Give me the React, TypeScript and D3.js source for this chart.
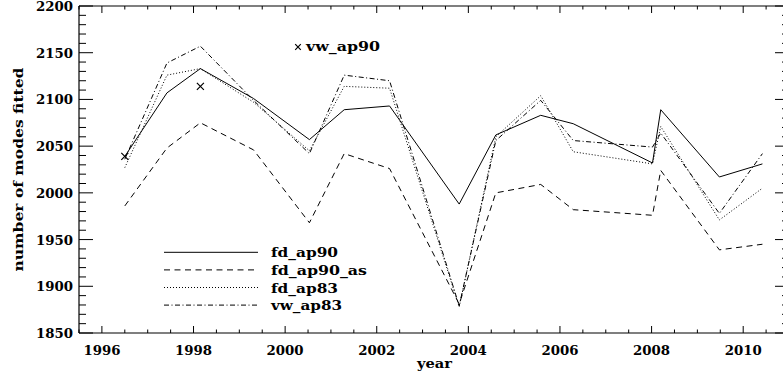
import React from "react";
import * as d3 from "d3";

const years = [1996.5, 1997.42, 1998.15, 1999.31, 2000.53, 2001.29, 2002.28, 2003.8, 2004.6, 2005.58, 2006.29, 2008.02, 2008.2, 2009.48, 2010.42];
const fdAp90 = [2039, 2107, 2133, 2101, 2057, 2089, 2093, 1988, 2062, 2083, 2074, 2032, 2089, 2017, 2031];
const fdAp90As = [1986, 2048, 2075, 2046, 1968, 2042, 2026, 1881, 2000, 2009, 1982, 1976, 2024, 1939, 1945];
const fdAp83 = [2027, 2126, 2133, 2097, 2045, 2114, 2112, 1878, 2060, 2104, 2044, 2031, 2071, 1971, 2005];
const vwAp83 = [2036, 2139, 2157, 2099, 2042, 2126, 2120, 1879, 2056, 2099, 2056, 2049, 2064, 1978, 2042];
const vwAp90Years = [1996.5, 1998.15];
const vwAp90 = [2039, 2114];

const seriesNames = ["fd_ap90", "fd_ap90_as", "fd_ap83", "vw_ap83"];
const xTicks = [1996, 1998, 2000, 2002, 2004, 2006, 2008, 2010];
const yTicks = [1850, 1900, 1950, 2000, 2050, 2100, 2150, 2200];

const W = 783, H = 384;
const L = 79, R = 789, T = 6, B = 333;
const FONT = "'DejaVu Serif', serif";
const legendLen = [67, 96, 67, 71];

export default function App() {
  const x = d3.scaleLinear().domain([1995.5, 2011]).range([L, R]);
  const y = d3.scaleLinear().domain([1850, 2200]).range([B, T]);
  const line = d3.line<[number, number]>().x(d => x(d[0])).y(d => y(d[1]));
  const series = [fdAp90, fdAp90As, fdAp83, vwAp83];
  const dashes = ["none", "6 4.5", "1 2", "5 2.5 1 2.5"];

  const xMinor = d3.range(1995.5, 2011.01, 0.5);
  const yMinor = d3.range(1850, 2200.01, 10);

  const cross = (cx: number, cy: number, k: string, s = 3.5) => (
    <path key={k} d={`M${cx - s},${cy - s}L${cx + s},${cy + s}M${cx - s},${cy + s}L${cx + s},${cy - s}`} stroke="#000" strokeWidth={1.2} />
  );

  return (
    <svg width={W} height={H} style={{ position: "fixed", left: 0, top: 0, background: "#fff" }} fontFamily={FONT}>
      <rect x={0} y={0} width={W} height={H} fill="#fff" />
      <g stroke="#000" strokeWidth={1.2} fill="none">
        <line x1={L} y1={T} x2={L} y2={B} />
        <line x1={R} y1={T} x2={R} y2={B} />
        <line x1={L} y1={T} x2={R} y2={T} />
        <line x1={L} y1={B} x2={R} y2={B} />
      </g>
      <g stroke="#000" strokeWidth={1}>
        {xMinor.map((v, i) => {
          const major = xTicks.includes(v);
          const len = major ? 7 : 3.5;
          return (
            <g key={i}>
              <line x1={x(v)} x2={x(v)} y1={B} y2={B - len} />
              <line x1={x(v)} x2={x(v)} y1={T} y2={T + len} />
            </g>
          );
        })}
        {yMinor.map((v, i) => {
          const major = yTicks.includes(Math.round(v));
          const len = major ? 14 : 7;
          return (
            <g key={i}>
              <line x1={L} x2={L + len} y1={y(v)} y2={y(v)} />
              <line x1={R} x2={R - len} y1={y(v)} y2={y(v)} />
            </g>
          );
        })}
      </g>
      <g fontSize={13.3} fontWeight="bold" fill="#000">
        {xTicks.map(v => (
          <text key={v} x={x(v)} y={355} textAnchor="middle">{v}</text>
        ))}
        {yTicks.map(v => (
          <text key={v} x={73} y={y(v) + 5} textAnchor="end">{v}</text>
        ))}
        <text x={417} y={368} textLength={35} lengthAdjust="spacingAndGlyphs">year</text>
        <text transform={`translate(23,${(T + B) / 2}) rotate(-90)`} x={-102} textLength={204} lengthAdjust="spacingAndGlyphs">number of modes fitted</text>
      </g>
      <g fill="none" stroke="#000" strokeWidth={1}>
        {series.map((s, i) => (
          <path key={i} d={line(years.map((yr, j) => [yr, s[j]] as [number, number])) || ""} strokeDasharray={dashes[i]} />
        ))}
      </g>
      {vwAp90Years.map((yr, i) => cross(x(yr), y(vwAp90[i]), "c" + i))}
      {seriesNames.map((n, i) => {
        const ly = 252.3 + i * 17.6;
        return (
          <g key={n}>
            <line x1={164} x2={258} y1={ly} y2={ly} stroke="#000" strokeWidth={1} strokeDasharray={dashes[i]} />
            <text x={271} y={ly + 5} fontSize={13.3} fontWeight="bold" textLength={legendLen[i]} lengthAdjust="spacingAndGlyphs">{n}</text>
          </g>
        );
      })}
      {cross(298, 47, "lg", 2.8)}
      <text x={306} y={51} fontSize={13.3} fontWeight="bold" textLength={74} lengthAdjust="spacingAndGlyphs">vw_ap90</text>
    </svg>
  );
}
